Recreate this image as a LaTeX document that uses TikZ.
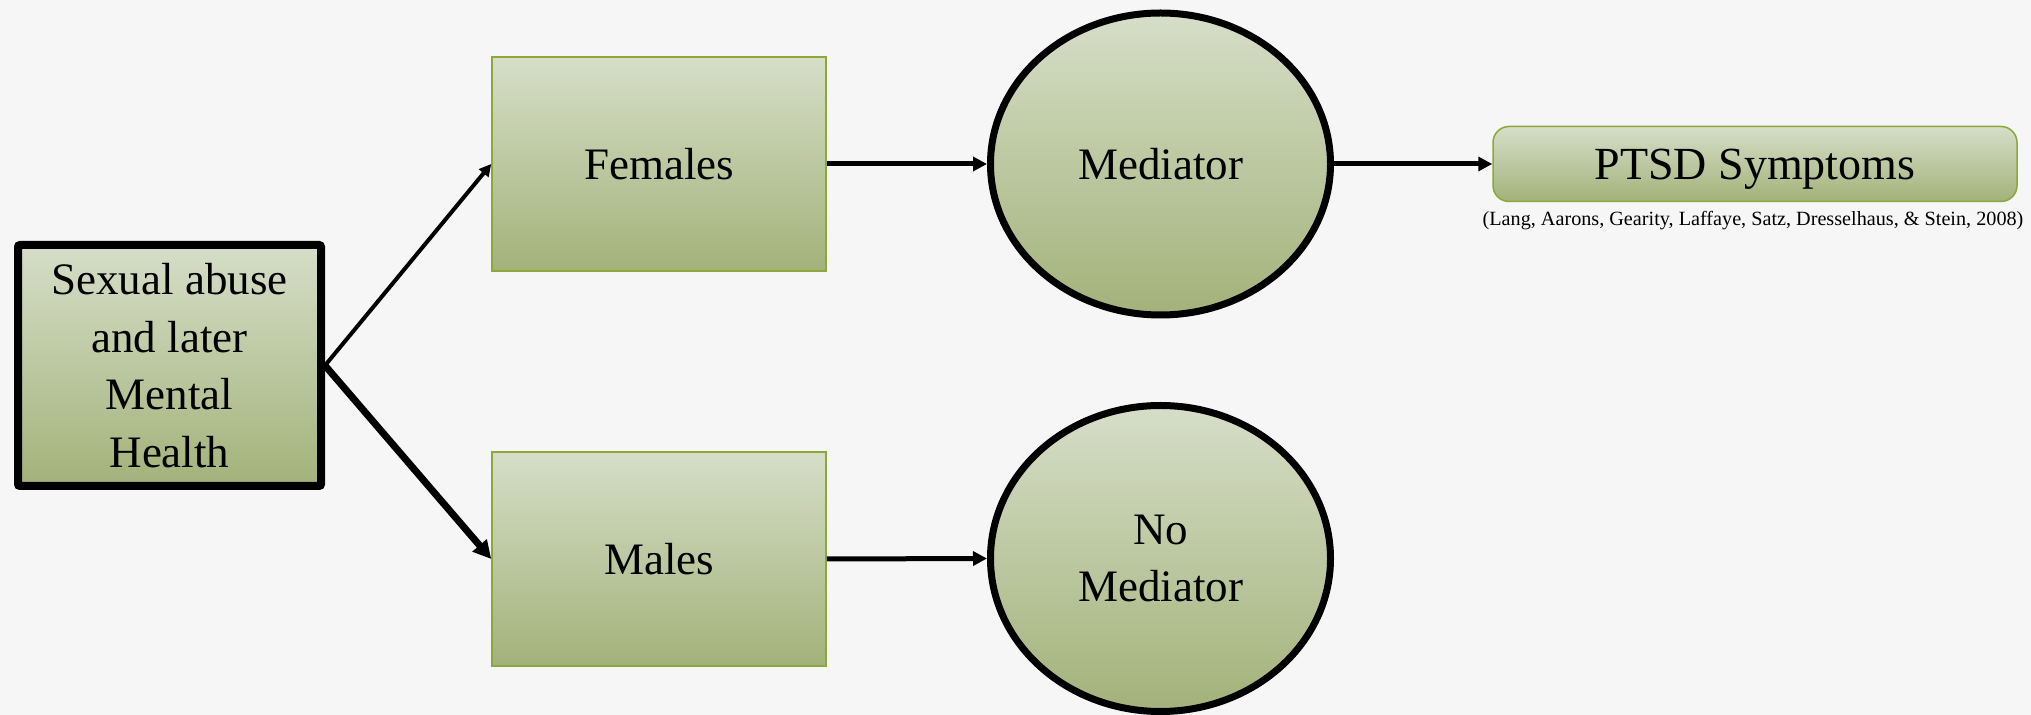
\documentclass[tikz,border=0pt]{standalone}
\usepackage{fontspec}
\setmainfont{Liberation Serif}
\usetikzlibrary{shapes.geometric,arrows.meta}
\definecolor{bgc}{RGB}{246,246,246}
\definecolor{topc}{RGB}{214,222,200}
\definecolor{botc}{RGB}{163,178,122}
\definecolor{bordc}{RGB}{140,168,58}
\tikzset{
  grad/.style={shading=axis, top color=topc, bottom color=botc, shading angle=0},
  gbox/.style={grad, rectangle, draw=bordc, line width=0.75pt, inner sep=0pt,
    minimum width=167pt, minimum height=107pt, font=\fontsize{22.5}{28.8}\selectfont},
  oval/.style={grad, ellipse, draw=black, line width=3.5pt, inner sep=0pt,
    minimum width=170pt, align=center, font=\fontsize{22.5}{22.5}\selectfont},
  conn/.style={line width=2.5pt, -{Triangle[length=7pt,width=7pt]}},
}
\begin{document}
\begin{tikzpicture}[x=0.5pt,y=-0.5pt]
\fill[bgc] (0,0) rectangle (2031,715);
\useasboundingbox (0,0) rectangle (2031,715);
\node[grad, rectangle, draw=black, line width=4pt, rounded corners=1pt, inner sep=0pt,
  minimum width=151.5pt, minimum height=120.5pt, align=center,
  font=\fontsize{22.5}{28.8}\selectfont] (src) at (169.5,365.5)
  {Sexual abuse\\and later\\Mental\\Health};
\node[gbox] (fem) at (659,164) {Females};
\node[gbox] (mal) at (659,559) {Males};
\node[oval, minimum height=151pt] (med) at (1160.5,164) {Mediator};
\node[oval, minimum height=153pt] (nomed) at (1160.5,558.5) {No\\[6pt]Mediator};
\node[grad, rectangle, draw=bordc, line width=0.75pt, rounded corners=8pt, inner sep=0pt,
  minimum width=262pt, minimum height=37.5pt, text depth=0pt,
  font=\fontsize{23}{23}\selectfont]
  (ptsd) at (1755,164) {PTSD Symptoms};
\node[font=\fontsize{10.1}{10.5}\selectfont, inner sep=0pt] (cite) at (1753,221)
  {(Lang, Aarons, Gearity, Laffaye, Satz, Dresselhaus, \& Stein, 2008)};
\draw[line width=2pt, -{Triangle[length=6pt,width=6pt]}] (src.east) -- (fem.west);
\draw[line width=3.5pt, -{Triangle[length=9pt,width=9pt]}] (src.east) -- (mal.west);
\draw[conn] (fem.east) -- (med.west);
\draw[conn] (mal.east) -- (nomed.west);
\draw[conn] (med.east) -- (ptsd.west);
\end{tikzpicture}
\end{document}
